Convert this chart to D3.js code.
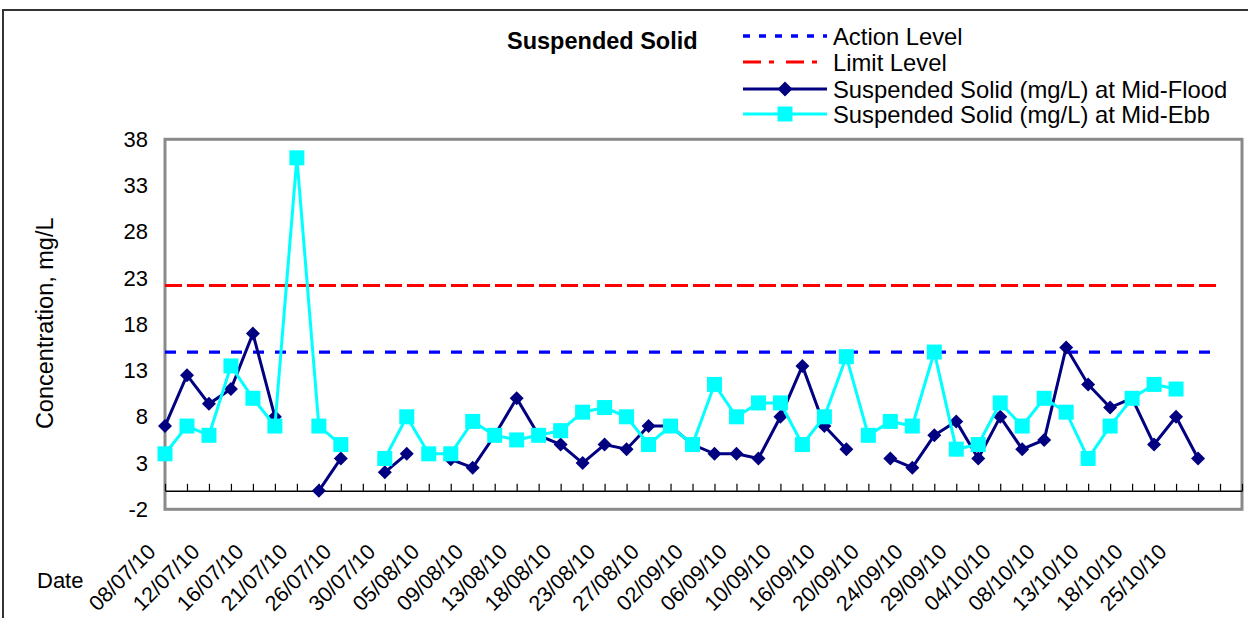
<!DOCTYPE html>
<html lang="en">
<head>
  <meta charset="UTF-8">
  <title>Suspended Solid</title>
  <script src="https://d3js.org/d3.v7.min.js"></script>
  <style>
    body {
      margin: 0;
      background: #ffffff;
      font-family: "Liberation Sans", Arial, sans-serif;
    }
  </style>
</head>
<body>
<div id="chart"></div>

<script>
// ---- data ----
const categories = d3.range(50);   // sampling days, only every 2nd one is labelled
const dateLabels = ["08/07/10", "12/07/10", "16/07/10", "21/07/10", "26/07/10", "30/07/10",
  "05/08/10", "09/08/10", "13/08/10", "18/08/10", "23/08/10", "27/08/10",
  "02/09/10", "06/09/10", "10/09/10", "16/09/10", "20/09/10", "24/09/10",
  "29/09/10", "04/10/10", "08/10/10", "13/10/10", "18/10/10", "25/10/10"];
const yTicks = [-2, 3, 8, 13, 18, 23, 28, 33, 38];

const midFlood = [7, 12.5, 9.4, 11, 17, 8, null, 0, 3.5, null,
  2, 4, null, 3.4, 2.5, 6, 10, 6, 5, 3,
  5, 4.5, 7, 7, 5, 4, 4, 3.5, 8, 13.5,
  7, 4.5, null, 3.5, 2.5, 6, 7.5, 3.5, 8, 4.5,
  5.5, 15.5, 11.5, 9, 10, 5, 8, 3.5, null, null];
const midEbb = [4, 7, 6, 13.5, 10, 7, 36, 7, 5, null,
  3.5, 8, 4, 4, 7.5, 6, 5.5, 6, 6.5, 8.5,
  9, 8, 5, 7, 5, 11.5, 8, 9.5, 9.5, 5,
  8, 14.5, 6, 7.5, 7, 15, 4.5, 5, 9.5, 7,
  10, 8.5, 3.5, 7, 10, 11.5, 11, null, null, null];
const actionLevel = 15;
const limitLevel = 22.2;
const levelSpan = 49;   // level lines run over the first 49 categories

// ---- layout ----
const W = 1248, H = 618;
const plot = { left: 165, right: 1242, top: 139.3, bottom: 509.3 };

const svg = d3.select("#chart").append("svg")
  .attr("width", W)
  .attr("height", H)
  .attr("font-family", "'Liberation Sans', Arial, sans-serif");

const x = d3.scalePoint()
  .domain(categories)
  .range([plot.left, plot.right]);

const y = d3.scaleLinear()
  .domain([-2, 38])
  .range([plot.bottom, plot.top]);

// outer chart frame (right/bottom edges run off the picture)
svg.append("rect")
  .attr("x", 3).attr("y", 10)
  .attr("width", W + 20).attr("height", H + 20)
  .attr("fill", "none")
  .attr("stroke", "#333")
  .attr("stroke-width", 2);

// plot area frame
svg.append("rect")
  .attr("x", plot.left).attr("y", plot.top)
  .attr("width", plot.right - plot.left)
  .attr("height", plot.bottom - plot.top)
  .attr("fill", "none")
  .attr("stroke", "#8a8a8a")
  .attr("stroke-width", 3);

// y axis labels
const yAxis = svg.append("g")
  .attr("transform", `translate(${plot.left},0)`)
  .call(d3.axisLeft(y).tickValues(yTicks).tickSize(0).tickPadding(17)
    .tickFormat(d => String(d)));
yAxis.select(".domain").remove();
yAxis.attr("font-family", null).attr("font-size", 22);
yAxis.selectAll("text").attr("fill", "#000");

// x axis crossing at 0, ticks pointing up
const xAxis = svg.append("g")
  .attr("transform", `translate(0,${y(0)})`)
  .call(d3.axisBottom(x).tickSize(-7).tickSizeOuter(0).tickFormat(""));
xAxis.select(".domain").attr("stroke", "#000").attr("stroke-width", 1.5);
xAxis.selectAll(".tick line").attr("stroke", "#000").attr("stroke-width", 1.2);

// rotated date labels
svg.append("g")
  .attr("font-size", 21.5)
  .selectAll("text")
  .data(dateLabels)
  .join("text")
  .attr("text-anchor", "end")
  .attr("transform", (d, i) => `translate(${x(categories[i * 2]) - 8},553) rotate(-45)`)
  .text(d => d);

svg.append("text")
  .attr("x", 37).attr("y", 588)
  .attr("font-size", 22)
  .text("Date");

svg.append("text")
  .attr("transform", `translate(53,${(plot.top + plot.bottom) / 2 - 1}) rotate(-90)`)
  .attr("text-anchor", "middle")
  .attr("font-size", 23.5)
  .text("Concentration, mg/L");

// title
svg.append("text")
  .attr("x", 507).attr("y", 49)
  .attr("font-size", 23.5)
  .attr("font-weight", "bold")
  .text("Suspended Solid");

// level lines
const levelCats = categories.slice(0, levelSpan);
const levelLine = v => d3.line().x(d => x(d)).y(() => y(v))(levelCats);

svg.append("path")
  .attr("d", levelLine(actionLevel))
  .attr("fill", "none")
  .attr("stroke", "#0000ff")
  .attr("stroke-width", 3.3)
  .attr("stroke-dasharray", "11,11");

svg.append("path")
  .attr("d", levelLine(limitLevel))
  .attr("fill", "none")
  .attr("stroke", "#ff0000")
  .attr("stroke-width", 3)
  .attr("stroke-dasharray", "17,5");

// data series
const series = [
  { values: midFlood, color: "#000080", marker: "diamond" },
  { values: midEbb, color: "#00ffff", marker: "square" }
];

const diamond = (s) => `M0,${-s}L${s},0L0,${s}L${-s},0Z`;
const square = (s) => `M${-s},${-s}H${s}V${s}H${-s}Z`;

series.forEach(sr => {
  const pts = categories.map((c, i) => ({ c, v: sr.values[i] }));
  const line = d3.line()
    .defined(d => d.v !== null)
    .x(d => x(d.c))
    .y(d => y(d.v));

  svg.append("path")
    .datum(pts)
    .attr("d", line)
    .attr("fill", "none")
    .attr("stroke", sr.color)
    .attr("stroke-width", 3);

  svg.append("g").selectAll("path")
    .data(pts.filter(d => d.v !== null))
    .join("path")
    .attr("transform", d => `translate(${x(d.c)},${y(d.v)})`)
    .attr("d", sr.marker === "diamond" ? diamond(7) : square(7.5))
    .attr("fill", sr.color);
});

// legend
const legendItems = [
  { label: "Action Level", color: "#0000ff", dash: "7,9", width: 3.3, marker: null },
  { label: "Limit Level", color: "#ff0000", dash: "18,8,5,12", width: 3, marker: null },
  { label: "Suspended Solid (mg/L) at Mid-Flood", color: "#000080", dash: null, width: 3, marker: "diamond" },
  { label: "Suspended Solid (mg/L) at Mid-Ebb", color: "#00ffff", dash: null, width: 3, marker: "square" }
];
const legendY = [36, 62, 89, 114];

const legend = svg.append("g").attr("font-size", 23.8);
legendItems.forEach((it, i) => {
  const g = legend.append("g").attr("transform", `translate(0,${legendY[i]})`);
  g.append("line")
    .attr("x1", 743).attr("x2", 827)
    .attr("stroke", it.color)
    .attr("stroke-width", it.width)
    .attr("stroke-dasharray", it.dash);
  if (it.marker) {
    g.append("path")
      .attr("transform", "translate(785,0)")
      .attr("d", it.marker === "diamond" ? diamond(7.5) : square(7.5))
      .attr("fill", it.color);
  }
  g.append("text")
    .attr("x", 833).attr("y", 9)
    .text(it.label);
});
</script>
</body>
</html>
